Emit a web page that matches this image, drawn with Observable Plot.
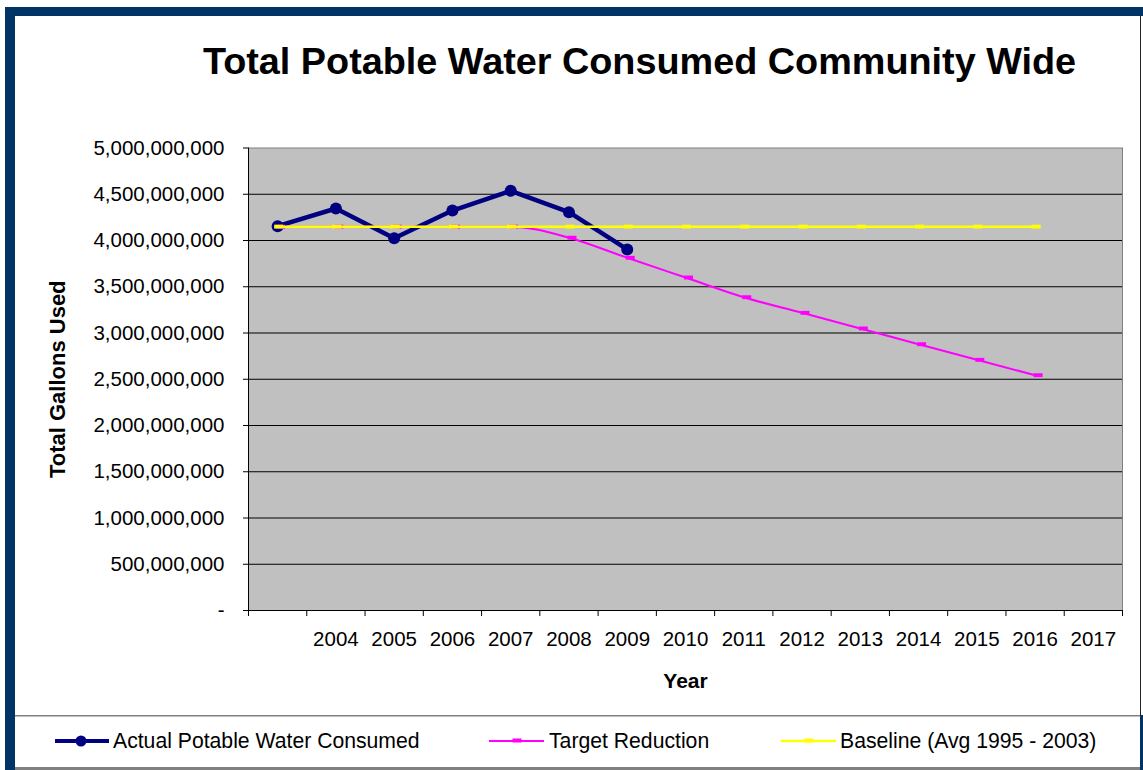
<!DOCTYPE html>
<html>
<head>
<meta charset="utf-8">
<script src="https://cdn.jsdelivr.net/npm/d3@7"></script>
<script src="https://cdn.jsdelivr.net/npm/@observablehq/plot@0.6"></script>
<style>
  body { margin: 0; background: #fff; font-family: "Liberation Sans", Arial, sans-serif; }
  #wrap { position: relative; width: 1143px; height: 770px; overflow: hidden; background: #fff; }
  #chart { position: absolute; left: 15px; top: 100px; }
  #overlay { position: absolute; left: 0; top: 0; pointer-events: none; }
</style>
</head>
<body>
<div id="wrap">
  <div id="chart"></div>
  <svg id="overlay" width="1143" height="770"></svg>
</div>
<script>
// ---- Data ----
const titleText = "Total Potable Water Consumed Community Wide";
const yLabel = "Total Gallons Used";
const xLabel = "Year";

const years = [2003, 2004, 2005, 2006, 2007, 2008, 2009, 2010, 2011, 2012, 2013, 2014, 2015, 2016, 2017];
const xLabels = ["", "2004", "2005", "2006", "2007", "2008", "2009", "2010", "2011", "2012", "2013", "2014", "2015", "2016", "2017"];

const actualYears = [2003, 2004, 2005, 2006, 2007, 2008, 2009];
const actualValues = [4155000000, 4346000000, 4025000000, 4324000000, 4537000000, 4306000000, 3903000000];

const targetYears = [2003, 2004, 2005, 2006, 2007, 2008, 2009, 2010, 2011, 2012, 2013, 2014, 2015, 2016];
const targetValues = [4150000000, 4150000000, 4150000000, 4150000000, 4150000000, 4030000000, 3813000000,
                      3600000000, 3387000000, 3218000000, 3049000000, 2879000000, 2710000000, 2544000000];

const baselineYears = [2003, 2004, 2005, 2006, 2007, 2008, 2009, 2010, 2011, 2012, 2013, 2014, 2015, 2016];
const baselineValues = [4150000000, 4150000000, 4150000000, 4150000000, 4150000000, 4150000000, 4150000000,
                        4150000000, 4150000000, 4150000000, 4150000000, 4150000000, 4150000000, 4150000000];

const yTicks = [0, 500000000, 1000000000, 1500000000, 2000000000, 2500000000, 3000000000,
                3500000000, 4000000000, 4500000000, 5000000000];

const seriesNames = ["Actual Potable Water Consumed", "Target Reduction", "Baseline (Avg 1995 - 2003)"];
const seriesColors = ["#000080", "#FF00FF", "#FFFF00"];

// ---- Build tables ----
const actual = actualYears.map((year, i) => ({year, value: actualValues[i]}));
const target = targetYears.map((year, i) => ({year, value: targetValues[i]}));
const baseline = baselineYears.map((year, i) => ({year, value: baselineValues[i]}));
const boundaries = years.map(y => y - 0.5).concat([years[years.length - 1] + 0.5]);

const dash = {
  draw(ctx, size) {
    const r = Math.sqrt(size / Math.PI);
    ctx.rect(-r * 1.5, -r * 0.65, r * 3, r * 1.3);
  }
};

const FONT = "'Liberation Sans', Arial, sans-serif";
const fmt = d3.format(",");

const chart = Plot.plot({
  width: 1125,
  height: 610,
  marginLeft: 233,
  marginRight: 18,
  marginTop: 47.5,
  marginBottom: 100,
  style: {fontFamily: FONT, fontSize: "20.5px", color: "#000", background: "transparent", overflow: "visible"},
  x: {type: "linear", domain: [years[0] - 0.5, years[years.length - 1] + 0.5]},
  y: {type: "linear", domain: [yTicks[0], yTicks[yTicks.length - 1]]},
  marks: [
    Plot.frame({fill: "#C0C0C0", stroke: "#808080"}),
    Plot.gridY(yTicks.slice(1, -1), {stroke: "#000", strokeOpacity: 1, strokeWidth: 1}),
    Plot.ruleX([boundaries[0]], {stroke: "#000"}),
    Plot.ruleY([yTicks[0]], {stroke: "#000"}),
    Plot.axisY(yTicks, {tickSize: 5, tickPadding: 19, stroke: "#000",
      tickFormat: d => d === 0 ? "-" : fmt(d), label: null}),
    Plot.axisX(boundaries, {tickSize: 6, stroke: "#000", tickFormat: () => "", label: null}),
    Plot.axisX(years, {tickSize: 0, tickPadding: 21, label: null,
      tickFormat: d => xLabels[years.indexOf(d)]}),
    Plot.text([yLabel], {frameAnchor: "left", dx: -191, rotate: -90, fontWeight: "bold",
      fontSize: 22, textAnchor: "middle", lineAnchor: "middle"}),
    Plot.text([xLabel], {frameAnchor: "bottom", dy: 71, fontWeight: "bold",
      fontSize: 21, textAnchor: "middle", lineAnchor: "middle"}),
    // Actual
    Plot.line(actual, {x: "year", y: "value", stroke: seriesColors[0], strokeWidth: 4.5}),
    Plot.dot(actual, {x: "year", y: "value", r: 6, fill: seriesColors[0], stroke: "none"}),
    // Target
    Plot.line(target, {x: "year", y: "value", stroke: seriesColors[1], strokeWidth: 2, curve: "monotone-x"}),
    Plot.dot(target, {x: "year", y: "value", symbol: dash, r: 3, fill: seriesColors[1], stroke: "none", dx: 3}),
    // Baseline
    Plot.line(baseline, {x: "year", y: "value", stroke: seriesColors[2], strokeWidth: 2.5}),
    Plot.dot(baseline, {x: "year", y: "value", symbol: dash, r: 3, fill: seriesColors[2], stroke: "none", dx: 1})
  ]
});
document.getElementById("chart").appendChild(chart);

// ---- Frame, title, legend ----
const ov = d3.select("#overlay");
const blue = "#003366";
ov.append("rect").attr("x", 5).attr("y", 7).attr("width", 1138).attr("height", 9).attr("fill", blue);
ov.append("rect").attr("x", 5).attr("y", 7).attr("width", 10).attr("height", 763).attr("fill", blue);
ov.append("rect").attr("x", 1140).attr("y", 16).attr("width", 1).attr("height", 699).attr("fill", "#222");
ov.append("rect").attr("x", 1140).attr("y", 715).attr("width", 3).attr("height", 55).attr("fill", blue);
ov.append("rect").attr("x", 15).attr("y", 715).attr("width", 1125).attr("height", 1.5).attr("fill", "#808080");
ov.append("rect").attr("x", 15).attr("y", 767).attr("width", 1125).attr("height", 3).attr("fill", "#808080");

ov.append("text").attr("x", 639.5).attr("y", 74).attr("text-anchor", "middle")
  .attr("font-family", FONT).attr("font-weight", "bold").attr("font-size", 37.8).attr("fill", "#000")
  .text(titleText);

const legendY = 741;
const legendItems = [
  {x0: 55, x1: 109, mx: 81, tx: 113, kind: "circle", w: 4},
  {x0: 489, x1: 544, mx: 517, tx: 549, kind: "dash", w: 2},
  {x0: 781, x1: 836, mx: 809, tx: 840, kind: "dash", w: 2.5}
];
legendItems.forEach((it, i) => {
  const g = ov.append("g");
  g.append("line").attr("x1", it.x0).attr("x2", it.x1).attr("y1", legendY).attr("y2", legendY)
    .attr("stroke", seriesColors[i]).attr("stroke-width", it.w);
  if (it.kind === "circle") {
    g.append("circle").attr("cx", it.mx).attr("cy", legendY).attr("r", 5.5).attr("fill", seriesColors[i]);
  } else {
    g.append("rect").attr("x", it.mx - 4.5).attr("y", legendY - 2.5).attr("width", 9).attr("height", 4)
      .attr("fill", seriesColors[i]);
  }
  g.append("text").attr("x", it.tx).attr("y", legendY + 7).attr("font-family", FONT)
    .attr("font-size", 21.2).attr("fill", "#000").text(seriesNames[i]);
});
</script>
</body>
</html>
